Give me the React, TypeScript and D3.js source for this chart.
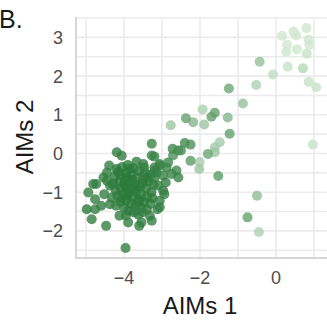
import * as d3 from 'd3';

// [AIMs 1, AIMs 2, shade 0 = dark .. 1 = light]
const upperPoints: [number, number, number][] = [
  [0.16, 3.04, 1], [0.29, 2.81, 1], [0.46, 3.15, 1], [0.53, 3.05, 1], [0.8, 3.24, 1],
  [0.86, 2.94, 1], [0.88, 2.81, 1], [0.27, 2.63, 1], [0.55, 2.69, 1], [0.81, 2.58, 0.95],
  [0.31, 2.24, 0.95], [0.71, 2.2, 0.85], [-0.08, 2.04, 0.9], [-0.43, 2.37, 0.65],
  [-0.52, 1.77, 0.8], [0.86, 1.85, 0.95], [1.06, 1.71, 0.95], [-0.87, 1.29, 0.65],
  [0.97, 0.23, 0.95],
];

const midPoints: [number, number, number][] = [
  [-1.24, 1.68, 0.4], [-1.27, 0.93, 0.55], [-1.22, 0.51, 0.35], [-1.61, 1.05, 0.35],
  [-1.7, 0.95, 0.35], [-1.93, 1.14, 0.8], [-1.89, 0.75, 0.7], [-2.18, 0.81, 0.55],
  [-2.37, 0.91, 0.35], [-2.77, 0.73, 0.7], [-1.48, 0.29, 0.75], [-1.61, 0.16, 0.75],
  [-1.61, 0.03, 0.7], [-1.79, -0.01, 0.4], [-2.01, -0.22, 0.75], [-2.02, -0.4, 0.7],
  [-2.25, -0.19, 0.3], [-1.52, -0.58, 0.3], [-0.5, -1.09, 0.6], [-0.75, -1.65, 0.35],
  [-0.45, -2.03, 0.8], [-2.4, 0.27, 0.15], [-2.25, 0.23, 0.2], [-2.57, 0.08, 0.15],
  [-2.71, -0.05, 0.2], [-2.72, 0.12, 0.15], [-2.5, 0.08, 0.2],
];

const edgePoints: [number, number, number][] = [
  [-3.27, 0.25, 0.1], [-3.27, -0.05, 0.08], [-3.2, -0.08, 0.08], [-4.19, 0.03, 0.05],
  [-4.06, -0.06, 0.05], [-3.67, -0.21, 0.05], [-3.49, -0.27, 0.05], [-3.06, -0.27, 0.1],
  [-2.88, -0.36, 0.08], [-2.62, -0.44, 0.12], [-2.75, -0.53, 0.08], [-2.97, -0.57, 0.08],
  [-3.14, -0.49, 0.08], [-2.57, -0.62, 0.08], [-2.84, -0.23, 0.12], [-3.06, -0.31, 0.08],
  [-3.19, -0.44, 0.05], [-4.81, -0.79, 0.05], [-4.54, -0.62, 0.05], [-4.45, -0.7, 0.05],
  [-4.37, -0.83, 0.05], [-4.94, -1.01, 0.05], [-4.76, -1.18, 0.05], [-4.98, -1.44, 0],
  [-4.76, -1.44, 0.05], [-4.85, -1.7, 0.05], [-4.47, -1.87, 0.05], [-3.89, -1.78, 0.05],
  [-3.6, -1.87, 0.05], [-3.54, -1.78, 0.05], [-3.27, -1.74, 0.05], [-3.32, -1.61, 0.05],
  [-3.06, -1.39, 0.05], [-3.06, -1.22, 0.05], [-2.97, -0.96, 0.05], [-3.1, -0.83, 0.05],
  [-3.19, -0.62, 0.05], [-3.96, -2.44, 0.05], [-4.37, -1.31, 0.05], [-4.32, -1.14, 0.05],
  [-4.45, -0.49, 0.05], [-4.52, -1.05, 0.05], [-4.6, -1.35, 0.05], [-4.21, -1.35, 0.05],
  [-4.12, -1.61, 0.05], [-3.69, -1.48, 0.05], [-3.51, -1.52, 0.05], [-3.12, -1.44, 0.05],
  [-2.94, -1.05, 0.05], [-2.9, -0.75, 0.05], [-4.73, -0.79, 0.05], [-4.39, -0.31, 0.05],
  [-3.47, -0.36, 0.05], [-3.2, -0.36, 0.05], [-4.3, -0.79, 0.05],
];

const corePoints: [number, number, number][] = [
  [-4.2, -0.4, 0], [-4.05, -0.35, 0], [-3.9, -0.3, 0], [-3.75, -0.38, 0], [-3.6, -0.45, 0],
  [-3.45, -0.5, 0], [-3.3, -0.55, 0], [-4.25, -0.6, 0], [-4.1, -0.55, 0], [-3.95, -0.5, 0],
  [-3.8, -0.55, 0], [-3.65, -0.62, 0], [-3.5, -0.68, 0], [-3.35, -0.72, 0], [-3.22, -0.8, 0],
  [-4.28, -0.78, 0], [-4.12, -0.72, 0], [-3.98, -0.7, 0], [-3.85, -0.75, 0], [-3.72, -0.8, 0],
  [-3.58, -0.85, 0], [-3.42, -0.9, 0], [-3.28, -1.0, 0], [-4.22, -0.95, 0], [-4.08, -0.9, 0],
  [-3.95, -0.88, 0], [-3.82, -0.92, 0], [-3.68, -0.98, 0], [-3.55, -1.05, 0], [-3.4, -1.12, 0],
  [-4.18, -1.1, 0], [-4.02, -1.05, 0], [-3.9, -1.08, 0], [-3.78, -1.12, 0], [-3.62, -1.18, 0],
  [-3.48, -1.25, 0], [-3.3, -1.3, 0], [-4.1, -1.25, 0], [-3.95, -1.22, 0], [-3.82, -1.3, 0],
  [-3.7, -1.35, 0], [-3.55, -1.4, 0], [-3.4, -1.45, 0], [-4.0, -1.4, 0], [-3.88, -1.48, 0],
  [-3.75, -1.52, 0], [-3.62, -1.58, 0], [-3.92, -0.62, 0], [-3.78, -0.68, 0], [-3.88, -1.0, 0],
  [-4.0, -0.8, 0], [-3.7, -0.9, 0], [-3.85, -0.4, 0], [-4.15, -0.48, 0], [-3.52, -0.78, 0],
  [-3.38, -0.62, 0], [-3.25, -1.15, 0], [-3.6, -1.25, 0], [-4.05, -1.15, 0], [-3.95, -1.6, 0],
];

const xTicks = [-4, -2, 0];
const yTicks = [-2, -1, 0, 1, 2, 3];
const xGrid = [-5, -4, -3, -2, -1, 0, 1];
const yGrid = [-2.5, -2, -1.5, -1, -0.5, 0, 0.5, 1, 1.5, 2, 2.5, 3, 3.5];

const W = 327;
const H = 321;
const panel = { left: 76, right: 324, top: 17, bottom: 258 };

export default function App() {
  const x = d3.scaleLinear().domain([-4, 0]).range([124, 276]);
  const y = d3.scaleLinear().domain([-2, 3]).range([230.9, 37.4]);
  const shade = d3.interpolateRgb('#2c7a3b', '#cfe7cf');
  const pts = [...corePoints, ...edgePoints, ...midPoints, ...upperPoints];
  const font = '"Liberation Sans", Arial, sans-serif';
  const fmt = (v: number) => d3.format('')(v).replace('-', '\u2212');

  return (
    <div style={{ position: 'fixed', left: 0, top: 0 }}>
      <svg width={W} height={H} style={{ display: 'block', background: '#fff', fontFamily: font }}>
        {xGrid.map(v => (
          <line key={'gx' + v} x1={x(v)} x2={x(v)} y1={panel.top} y2={panel.bottom}
            stroke="#ebebeb" strokeWidth={1.6} />
        ))}
        {yGrid.map(v => (
          <line key={'gy' + v} x1={panel.left} x2={W} y1={y(v)} y2={y(v)}
            stroke="#ebebeb" strokeWidth={1.6} />
        ))}
        <line x1={panel.left} x2={panel.left} y1={panel.top} y2={panel.bottom + 1}
          stroke="#d6d6d6" strokeWidth={2} />
        <line x1={panel.left - 1} x2={W} y1={panel.bottom} y2={panel.bottom}
          stroke="#d6d6d6" strokeWidth={2} />

        {pts.map((p, i) => (
          <circle key={i} cx={x(p[0])} cy={y(p[1])} r={5} fill={shade(p[2])} fillOpacity={0.8} />
        ))}

        {yTicks.map(v => (
          <text key={'ty' + v} x={63} y={y(v)} dy="0.36em" textAnchor="end"
            fontSize={18} fill="#4d4d4d">{fmt(v)}</text>
        ))}
        {xTicks.map(v => (
          <text key={'tx' + v} x={x(v)} y={284} textAnchor="middle"
            fontSize={18} fill="#4d4d4d">{fmt(v)}</text>
        ))}

        <text x={200} y={314} textAnchor="middle" fontSize={24} fill="#1a1a1a">AIMs 1</text>
        <text transform="translate(33,137) rotate(-90)" textAnchor="middle" fontSize={24}
          fill="#1a1a1a">AIMs 2</text>
        <text x={-1} y={28} fontSize={25} fill="#1a1a1a">B.</text>
      </svg>
    </div>
  );
}
